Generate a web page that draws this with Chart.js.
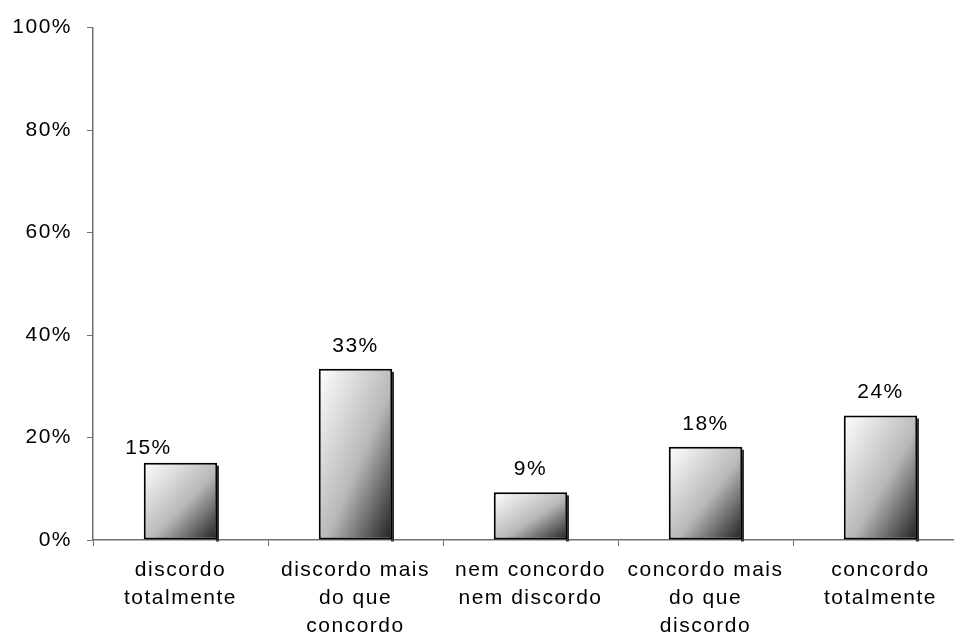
<!DOCTYPE html>
<html>
<head>
<meta charset="utf-8">
<script src="https://cdn.jsdelivr.net/npm/chart.js@4.4.1/dist/chart.umd.min.js"></script>
<style>
 html, body { margin: 0; padding: 0; background: #fff; overflow: hidden; }
 #wrap { width: 954px; height: 632px; overflow: hidden; }
</style>
</head>
<body>
<div id="wrap"><canvas id="agreeChart" width="980" height="632"></canvas></div>
<script>
var categories = [
 ["discordo", "totalmente"],
 ["discordo mais", "do que", "concordo"],
 ["nem concordo", "nem discordo"],
 ["concordo mais", "do que", "discordo"],
 ["concordo", "totalmente"],
];
var shares = [15.1, 33.4, 9.3, 18.2, 24.3];
var yTicks = [0, 20, 40, 60, 80, 100];

var fontFamily = "'Liberation Sans', Arial, sans-serif";
var barFraction = 0.42;

// Excel style diagonal fill: isolines run parallel to the other diagonal
function barFill(context) {
 var chart = context.chart;
 if (!chart.chartArea) return "#999";
 var xs = chart.scales.x;
 var ys = chart.scales.y;
 var i = context.dataIndex;
 var cx = xs.getPixelForValue(i);
 var w = (xs.width / categories.length) * barFraction;
 var left = cx - w / 2;
 var top = ys.getPixelForValue(shares[i]);
 var h = ys.getPixelForValue(0) - top;
 var k = (2 * w * h) / (h * h + w * w);
 var g = chart.ctx.createLinearGradient(left, top, left + h * k, top + w * k);
 g.addColorStop(0, "#ffffff");
 g.addColorStop(0.55, "#b8b8b8");
 g.addColorStop(1, "#1e1e1e");
 return g;
}

var spacingPlugin = {
 id: "spacing",
 beforeUpdate: function (chart) { chart.ctx.letterSpacing = "1.5px"; },
 beforeDraw: function (chart) { chart.ctx.letterSpacing = "1.5px"; },
};

// thin dark drop shadow on the right of each bar
var shadowPlugin = {
 id: "barShadow",
 beforeDatasetDraw: function (chart) {
  var ctx = chart.ctx;
  var meta = chart.getDatasetMeta(0);
  ctx.save();
  ctx.fillStyle = "#333";
  meta.data.forEach(function (bar) {
   var p = bar.getProps(["x", "y", "base", "width"], true);
   ctx.fillRect(Math.round(p.x + p.width / 2) - 1, p.y + 3, 3, p.base - p.y - 1);
  });
  ctx.restore();
 },
};

var valueLabelPlugin = {
 id: "valueLabels",
 afterDatasetsDraw: function (chart, args, opts) {
  var ctx = chart.ctx;
  var meta = chart.getDatasetMeta(0);
  ctx.save();
  ctx.letterSpacing = "1.5px";
  ctx.font = "21px " + fontFamily;
  ctx.fillStyle = "#000";
  ctx.textAlign = "center";
  ctx.textBaseline = "middle";
  meta.data.forEach(function (bar, i) {
   var nudge = opts.nudge[i] || [0, 0];
   ctx.fillText(Math.round(shares[i]) + "%", bar.x + nudge[0], bar.y - 23 + nudge[1]);
  });
  ctx.restore();
 },
};

new Chart(document.getElementById("agreeChart"), {
 type: "bar",
 data: {
  labels: categories,
  datasets: [
   {
    data: shares,
    backgroundColor: barFill,
    borderColor: "#000",
    borderWidth: 2,
    borderSkipped: false,
    barPercentage: barFraction,
    categoryPercentage: 1,
   },
  ],
 },
 options: {
  responsive: false,
  animation: false,
  layout: { padding: { top: 24, right: 12, left: 0, bottom: 0 } },
  plugins: {
   legend: { display: false },
   tooltip: { enabled: false },
   valueLabels: { nudge: { 0: [-32, 9] } },
  },
  scales: {
   x: {
    grid: {
     offset: true,
     drawOnChartArea: false,
     drawTicks: true,
     tickLength: 6,
     color: "#707070",
    },
    border: { display: true, color: "#707070", width: 1.5 },
    ticks: {
     color: "#000",
     font: { family: fontFamily, size: 21, lineHeight: 1.333 },
     padding: 10,
     autoSkip: false,
     maxRotation: 0,
    },
    afterFit: function (s) { s.height = 92; },
   },
   y: {
    min: 0,
    max: 100,
    afterBuildTicks: function (s) {
     s.ticks = yTicks.map(function (v) { return { value: v }; });
    },
    grid: {
     drawOnChartArea: false,
     drawTicks: true,
     tickLength: 6,
     color: "#707070",
    },
    border: { display: true, color: "#707070", width: 1.5 },
    ticks: {
     color: "#000",
     font: { family: fontFamily, size: 21 },
     padding: 15,
     callback: function (v) { return v + "%"; },
    },
    afterFit: function (s) { s.width = 93; },
   },
  },
 },
 plugins: [spacingPlugin, shadowPlugin, valueLabelPlugin],
});
</script>
</body>
</html>
